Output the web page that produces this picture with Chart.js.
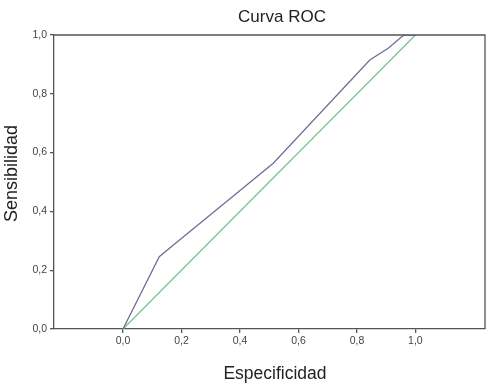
<!DOCTYPE html>
<html>
<head>
<meta charset="utf-8">
<script src="https://cdn.jsdelivr.net/npm/chart.js@4/dist/chart.umd.min.js"></script>
<style>
  html, body { margin: 0; padding: 0; background: #ffffff; }
  #wrap { width: 502px; height: 391px; position: relative; }
</style>
</head>
<body>
<div id="wrap"><canvas id="c" width="502" height="391"></canvas></div>
<script>
// Data
const rocX = [0, 0.124, 0.161, 0.514, 0.844, 0.907, 0.953, 0.964, 1.0];
const rocY = [0, 0.246, 0.276, 0.564, 0.915, 0.955, 0.994, 1.0, 1.0];
const refX = [0, 1];
const refY = [0, 1];
const tickValues = [0, 0.2, 0.4, 0.6, 0.8, 1.0];
const xMin = -0.236, xMax = 1.238;
const titleText = 'Curva ROC';
const xTitle = 'Especificidad';
const yTitle = 'Sensibilidad';

const FONT = 'Liberation Sans, Arial, sans-serif';
const toPts = (xs, ys) => xs.map((x, i) => ({ x: x, y: ys[i] }));
const fmt = v => v.toFixed(1).replace('.', ',');

const framePlugin = {
  id: 'frame',
  afterDatasetsDraw(chart) {
    const a = chart.chartArea, ctx = chart.ctx;
    ctx.save();
    ctx.strokeStyle = '#555555';
    ctx.lineWidth = 1.3;
    ctx.beginPath();
    ctx.moveTo(a.left, a.top);
    ctx.lineTo(a.right, a.top);
    ctx.lineTo(a.right, a.bottom);
    ctx.stroke();
    ctx.restore();
  }
};

const textPlugin = {
  id: 'texts',
  afterDraw(chart) {
    const a = chart.chartArea, ctx = chart.ctx;
    const cx = (a.left + a.right) / 2, cy = (a.top + a.bottom) / 2;
    ctx.save();
    ctx.fillStyle = '#222222';
    ctx.textAlign = 'center';
    ctx.textBaseline = 'middle';
    ctx.font = '17px ' + FONT;
    ctx.fillText(titleText, cx + 12.5, a.top - 18);
    ctx.font = '17.5px ' + FONT;
    ctx.fillText(xTitle, cx + 5.5, a.bottom + 45);
    ctx.translate(12, cy - 8.5);
    ctx.rotate(-Math.PI / 2);
    ctx.font = '18px ' + FONT;
    ctx.fillText(yTitle, 0, 0);
    ctx.restore();
  }
};

new Chart(document.getElementById('c'), {
  type: 'scatter',
  data: {
    datasets: [
      {
        data: toPts(rocX, rocY),
        showLine: true,
        borderColor: '#6e6e98',
        borderWidth: 1.3,
        pointRadius: 0,
        tension: 0
      },
      {
        data: toPts(refX, refY),
        showLine: true,
        borderColor: '#7cc28e',
        borderWidth: 1.3,
        pointRadius: 0,
        tension: 0
      }
    ]
  },
  options: {
    responsive: false,
    animation: false,
    devicePixelRatio: 1,
    layout: { padding: { left: 0, right: 17, top: 35, bottom: 0 } },
    plugins: {
      legend: { display: false },
      tooltip: { enabled: false },
      title: { display: false }
    },
    scales: {
      x: {
        type: 'linear',
        min: xMin,
        max: xMax,
        afterBuildTicks: s => { s.ticks = tickValues.map(v => ({ value: v })); },
        afterFit: s => { s.height = 62; },
        ticks: {
          callback: v => fmt(v),
          color: '#444444',
          font: { family: FONT, size: 10.5 },
          padding: 2,
          maxRotation: 0
        },
        grid: { display: true, drawOnChartArea: false, drawTicks: true, tickLength: 4, color: '#555555', lineWidth: 1.3 },
        border: { display: true, color: '#555555', width: 1.3 },
        title: { display: false }
      },
      y: {
        type: 'linear',
        min: 0,
        max: 1,
        afterBuildTicks: s => { s.ticks = tickValues.map(v => ({ value: v })); },
        afterFit: s => { s.width = 54; },
        ticks: {
          callback: v => fmt(v),
          color: '#444444',
          font: { family: FONT, size: 10.5 },
          padding: 3
        },
        grid: { display: true, drawOnChartArea: false, drawTicks: true, tickLength: 4, color: '#555555', lineWidth: 1.3 },
        border: { display: true, color: '#555555', width: 1.3 },
        title: { display: false }
      }
    }
  },
  plugins: [framePlugin, textPlugin]
});
</script>
</body>
</html>
